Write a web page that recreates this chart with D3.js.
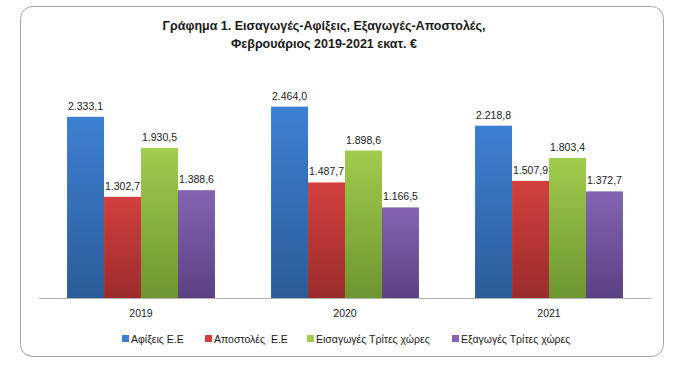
<!DOCTYPE html>
<html>
<head>
<meta charset="utf-8">
<script src="https://cdn.jsdelivr.net/npm/d3@7"></script>
<style>
  body { margin: 0; background: #fff; }
  svg text { font-family: "Liberation Sans", Arial, sans-serif; fill: #1a1a1a; }
</style>
</head>
<body>
<div id="chart"></div>
<script>
// data
var years = ["2019", "2020", "2021"];
var seriesNames = ["Αφίξεις Ε.Ε", "Αποστολές  Ε.Ε", "Εισαγωγές Τρίτες χώρες", "Εξαγωγές Τρίτες χώρες"];
var afixeis = [2333.1, 2464.0, 2218.8];
var apostoles = [1302.7, 1487.7, 1507.9];
var eisagoges = [1930.5, 1898.6, 1803.4];
var exagoges = [1388.6, 1166.5, 1372.7];
var titleLines = ["Γράφημα 1. Εισαγωγές-Αφίξεις, Εξαγωγές-Αποστολές,", "Φεβρουάριος 2019-2021 εκατ. €"];

var seriesValues = [afixeis, apostoles, eisagoges, exagoges];
// top / bottom colours of the excel-like gradient
var colTop = ["#3d80d3", "#d2403e", "#a1cc4d", "#8464b2"];
var colBot = ["#2b5c97", "#9a2c2b", "#6e9631", "#5a4182"];

var width = 700, height = 375;

var svg = d3.select("#chart").append("svg")
    .attr("width", width)
    .attr("height", height);

var defs = svg.append("defs");
colTop.forEach(function (c, i) {
    var g = defs.append("linearGradient")
        .attr("id", "grad" + i)
        .attr("x1", 0).attr("y1", 0).attr("x2", 0).attr("y2", 1);
    g.append("stop").attr("offset", "0%").attr("stop-color", c);
    g.append("stop").attr("offset", "100%").attr("stop-color", colBot[i]);
});

// card
svg.append("rect")
    .attr("x", 20.5).attr("y", 6.5)
    .attr("width", 643).attr("height", 350)
    .attr("rx", 12).attr("ry", 12)
    .attr("fill", "#fff")
    .attr("stroke", "#a6a6a6")
    .attr("stroke-width", 1);

// title
svg.append("g").selectAll("text")
    .data(titleLines).enter()
    .append("text")
    .attr("x", 324)
    .attr("y", function (d, i) { return 30 + i * 18; })
    .attr("text-anchor", "middle")
    .style("font-size", "12.5px")
    .style("font-weight", "bold")
    .text(function (d) { return d; });

var x0 = d3.scaleBand()
    .domain(years)
    .range([39, 651])
    .paddingInner(0.275)
    .paddingOuter(0.1375);

var x1 = d3.scaleBand()
    .domain(d3.range(seriesNames.length))
    .range([0, x0.bandwidth()]);

var y = d3.scaleLinear()
    .domain([0, 3000])
    .range([298, 65]);

var fmt = function (v) {
    return d3.format(",.1f")(v).replace(/,/g, "#").replace(".", ",").replace(/#/g, ".");
};

var groups = svg.append("g").selectAll("g")
    .data(years).enter()
    .append("g")
    .attr("transform", function (d) { return "translate(" + x0(d) + ",0)"; });

groups.selectAll("rect")
    .data(function (d, yi) {
        return seriesValues.map(function (s, si) { return {si: si, v: s[yi]}; });
    }).enter()
    .append("rect")
    .attr("x", function (d) { return x1(d.si); })
    .attr("y", function (d) { return y(d.v); })
    .attr("width", x1.bandwidth())
    .attr("height", function (d) { return y(0) - y(d.v); })
    .attr("fill", function (d) { return "url(#grad" + d.si + ")"; });

groups.selectAll("text.lbl")
    .data(function (d, yi) {
        return seriesValues.map(function (s, si) { return {si: si, v: s[yi]}; });
    }).enter()
    .append("text")
    .attr("class", "lbl")
    .attr("x", function (d) { return x1(d.si) + x1.bandwidth() / 2; })
    .attr("y", function (d) { return y(d.v) - 7; })
    .attr("text-anchor", "middle")
    .style("font-size", "10.5px")
    .text(function (d) { return fmt(d.v); });

// x axis
var xAxis = svg.append("g")
    .attr("transform", "translate(0," + y(0) + ")")
    .call(d3.axisBottom(x0).tickSize(0).tickPadding(12));
xAxis.select(".domain").attr("stroke", "#b3b3b3").attr("d", "M39,0.5H652");
xAxis.selectAll("text").style("font-size", "10.5px").attr("fill", "#1a1a1a");

// legend
var legendX = [122, 205, 307, 452];
var legend = svg.append("g").selectAll("g")
    .data(seriesNames).enter()
    .append("g")
    .attr("transform", function (d, i) { return "translate(" + legendX[i] + ",339)"; });
legend.append("rect")
    .attr("x", 0).attr("y", -4)
    .attr("width", 7).attr("height", 7)
    .attr("fill", function (d, i) { return colTop[i]; });
legend.append("text")
    .attr("x", 9).attr("y", 4)
    .style("font-size", "10.5px")
    .style("white-space", "pre")
    .attr("xml:space", "preserve")
    .text(function (d) { return d; });
</script>
</body>
</html>
